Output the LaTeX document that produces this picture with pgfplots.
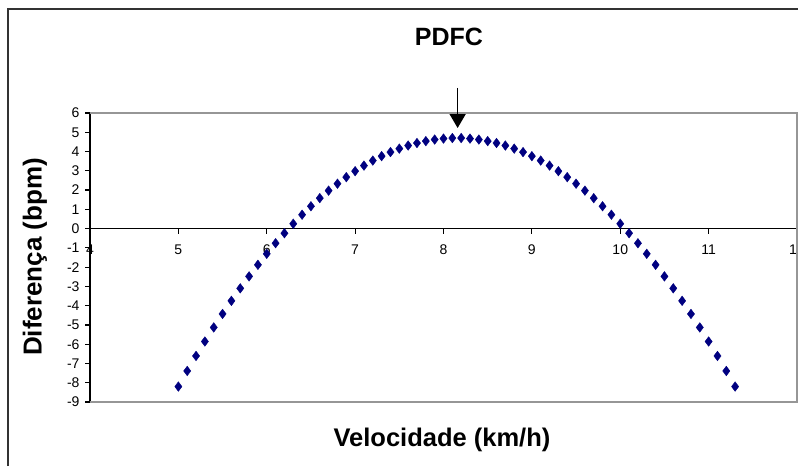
\documentclass[border=0pt]{standalone}
\usepackage{fontspec}
\setmainfont{Liberation Sans}
\usepackage{pgfplots}
\pgfplotsset{compat=1.18}
\usetikzlibrary{arrows.meta}
\definecolor{navy}{RGB}{0,0,128}
\definecolor{framegray}{RGB}{150,150,150}
\begin{document}
\begin{tikzpicture}[x=1pt,y=1pt]
\useasboundingbox (0,0) rectangle (798,466);
\draw[line width=2pt,black!80] (8,0) -- (8,457) -- (800,457);
\node[font=\bfseries\fontsize{25}{28}\selectfont] at (449,429) {PDFC};
\node[font=\bfseries\fontsize{25.5}{28}\selectfont] at (442,26) {Velocidade (km/h)};
\node[font=\bfseries\fontsize{26}{28}\selectfont,rotate=90] at (35,209) {Diferença (bpm)};
\begin{axis}[
  at={(90pt,64pt)}, anchor=south west,
  width=707pt, height=289pt, scale only axis,
  xmin=4, xmax=12, ymin=-9, ymax=6,
  axis x line=middle, axis y line=left,
  axis line style={-, black, line width=1.3pt},
  hide obscured x ticks=false,
  tick align=outside,
  major tick length=5pt,
  tick style={black, line width=1.2pt},
  xtick={4,5,...,12},
  ytick={-9,-8,...,6},
  yticklabels={-9,-8,-7,-6,-5,-4,-3,-2,-1,0,1,2,3,4,5,6},
  xticklabels={4,5,6,7,8,9,10,11,12},
  ticklabel style={font=\fontsize{14}{16}\selectfont},
  xticklabel style={yshift=-8pt},
  yticklabel style={xshift=-2pt},
  clip=false,
]
\draw[framegray, line width=1.6pt] (axis cs:4,6) -- (axis cs:12,6) -- (axis cs:12,-9) -- (axis cs:4,-9);
\addplot[only marks, mark=diamond*, mark size=4.8pt, color=navy] coordinates {
(5.0,-8.20) (5.1,-7.39) (5.2,-6.61) (5.3,-5.86) (5.4,-5.13) (5.5,-4.43)
(5.6,-3.75) (5.7,-3.10) (5.8,-2.48) (5.9,-1.88) (6.0,-1.31) (6.1,-0.76)
(6.2,-0.24) (6.3,0.25) (6.4,0.72) (6.5,1.16) (6.6,1.58) (6.7,1.97)
(6.8,2.33) (6.9,2.67) (7.0,2.98) (7.1,3.27) (7.2,3.53) (7.3,3.76)
(7.4,3.97) (7.5,4.15) (7.6,4.31) (7.7,4.44) (7.8,4.54) (7.9,4.62)
(8.0,4.67) (8.1,4.70) (8.2,4.70) (8.3,4.67) (8.4,4.62) (8.5,4.54)
(8.6,4.44) (8.7,4.31) (8.8,4.15) (8.9,3.97) (9.0,3.76) (9.1,3.53)
(9.2,3.27) (9.3,2.98) (9.4,2.67) (9.5,2.33) (9.6,1.97) (9.7,1.58)
(9.8,1.16) (9.9,0.72) (10.0,0.25) (10.1,-0.24) (10.2,-0.76) (10.3,-1.31)
(10.4,-1.88) (10.5,-2.48) (10.6,-3.10) (10.7,-3.75) (10.8,-4.43) (10.9,-5.13)
(11.0,-5.86) (11.1,-6.61) (11.2,-7.39) (11.3,-8.20)
};
\draw[line width=1.4pt, -{Triangle[width=16pt,length=14pt]}] (axis cs:8.16,7.3) -- (axis cs:8.16,5.22);
\end{axis}
\end{tikzpicture}
\end{document}
